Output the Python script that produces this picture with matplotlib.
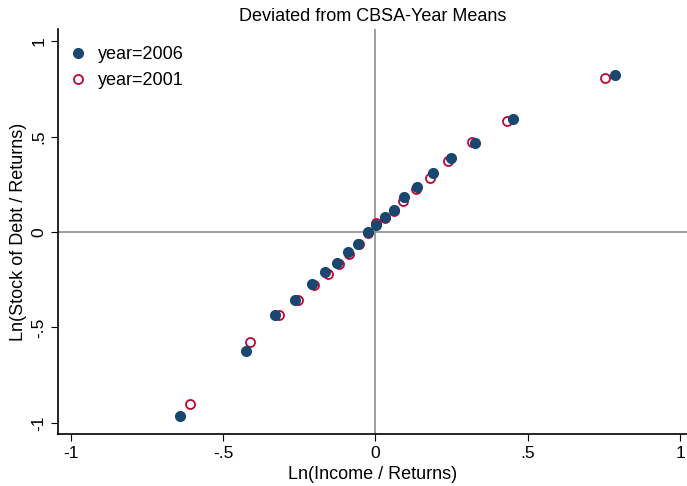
import matplotlib
matplotlib.use('Agg')
import matplotlib.pyplot as plt

# binned means
x_2006 = [-0.640, -0.424, -0.330, -0.265, -0.209, -0.166, -0.126, -0.090, -0.056, -0.025,
          0.003, 0.031, 0.060, 0.095, 0.137, 0.189, 0.249, 0.328, 0.452, 0.786]
y_2006 = [-0.963, -0.621, -0.436, -0.358, -0.274, -0.211, -0.162, -0.106, -0.062, 0.000,
          0.037, 0.078, 0.115, 0.182, 0.234, 0.311, 0.387, 0.464, 0.590, 0.822]
x_2001 = [-0.607, -0.410, -0.317, -0.253, -0.203, -0.157, -0.120, -0.087, -0.054, -0.024,
          0.002, 0.031, 0.060, 0.092, 0.133, 0.179, 0.238, 0.316, 0.432, 0.753]
y_2001 = [-0.901, -0.578, -0.433, -0.356, -0.277, -0.218, -0.169, -0.117, -0.065, -0.004,
          0.045, 0.075, 0.112, 0.162, 0.227, 0.284, 0.370, 0.470, 0.580, 0.805]

ticks = [-1, -0.5, 0, 0.5, 1]
tick_labels = ['-1', '-.5', '0', '.5', '1']

plt.rcParams['font.family'] = ['Liberation Sans', 'DejaVu Sans']

NAVY = '#1a476f'
RED = '#c10534'

fig = plt.figure(figsize=(6.87, 4.86), dpi=100, facecolor='white')
ax = fig.add_axes([0.085, 0.107, 0.915, 0.833])

ax.axhline(0, color='#8c8c8c', lw=1.2, zorder=1)
ax.axvline(0, color='#8c8c8c', lw=1.2, zorder=1)

ax.plot(x_2006, y_2006, 'o', ms=7, color=NAVY, mec=NAVY, label='year=2006', zorder=3)
ax.plot(x_2001, y_2001, 'o', ms=6.5, mfc='none', mec=RED, mew=1.3, label='year=2001', zorder=2)

ax.set_xlim(-1.04, 1.022)
ax.set_ylim(-1.058, 1.063)
ax.set_xticks(ticks)
ax.set_xticklabels(tick_labels)
ax.set_yticks(ticks)
ax.set_yticklabels(tick_labels, rotation=90, va='center')
ax.tick_params(direction='out', length=5, labelsize=12.5)

for s in ('top', 'right'):
    ax.spines[s].set_visible(False)
for s in ('left', 'bottom'):
    ax.spines[s].set_linewidth(1.2)

ax.set_title('Deviated from CBSA-Year Means', fontsize=13, pad=6)
ax.set_xlabel('Ln(Income / Returns)', fontsize=13, labelpad=4)
ax.set_ylabel('Ln(Stock of Debt / Returns)', fontsize=13, labelpad=3)

ax.legend(loc='upper left', bbox_to_anchor=(0.005, 0.976), borderaxespad=0,
          frameon=False, fontsize=13, handlelength=1.0, handletextpad=0.6,
          labelspacing=0.5)

fig.savefig('out.png', dpi=100, facecolor='white')
